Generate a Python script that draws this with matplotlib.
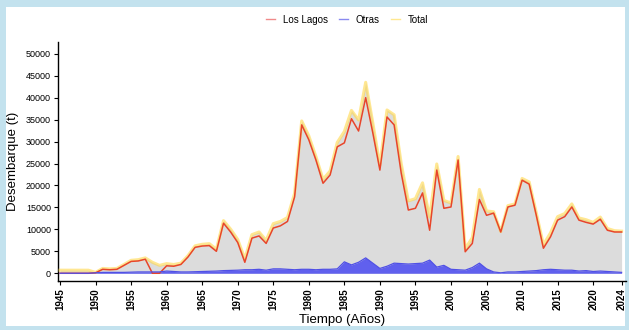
import numpy as np
import matplotlib
matplotlib.use('Agg')
import matplotlib.pyplot as plt
from matplotlib.lines import Line2D
from matplotlib.patches import Rectangle

plt.rcParams['font.family'] = ['Liberation Sans', 'DejaVu Sans']

years = list(range(1945, 2025))

los_lagos = [0, 0, 0, 0, 0,
             100, 900, 800, 900, 1800, 2700, 2800, 3200, 0, 0,
             1700, 1600, 2000, 3700, 5900, 6200, 6300, 5000, 11400, 9400,
             7000, 2500, 8000, 8500, 6800, 10300, 10800, 11800, 17400, 33800,
             30400, 25800, 20500, 22400, 28800, 29700, 35200, 32400, 40000, 32000,
             23500, 35600, 33800, 22800, 14400, 14800, 18300, 9800, 23500, 14800,
             15100, 25800, 4900, 6800, 16800, 13200, 13700, 9400, 15100, 15500,
             21200, 20300, 13200, 5700, 8300, 12100, 12900, 15100, 12100, 11600,
             11200, 12300, 9800, 9400, 9400]

otras = [0, 0, 0, 0, 0,
         100, 200, 200, 200, 200, 250, 300, 300, 300, 300,
         500, 400, 300, 300, 350, 400, 450, 500, 600, 650,
         700, 800, 800, 900, 700, 1000, 1000, 900, 800, 900,
         900, 800, 900, 900, 1000, 2600, 1900, 2500, 3500, 2300,
         1100, 1600, 2300, 2200, 2100, 2200, 2300, 3000, 1400, 1800,
         900, 800, 700, 1300, 2300, 1000, 300, 100, 300, 300,
         400, 500, 600, 800, 900, 800, 700, 700, 500, 600,
         400, 500, 400, 300, 200]

total = [700, 700, 700, 700, 700,
         200, 1100, 1000, 1100, 2000, 2950, 3100, 3500, 2500, 1800,
         2200, 2000, 2300, 4000, 6250, 6600, 6750, 5500, 12000, 10050,
         7700, 3300, 8800, 9400, 7500, 11300, 11800, 12700, 18200, 34700,
         31300, 26600, 21400, 23300, 29800, 32300, 37100, 34900, 43500, 34300,
         24600, 37200, 36100, 25000, 16500, 17000, 20600, 12800, 24900, 16600,
         16000, 26600, 5600, 8100, 19100, 14200, 14000, 9500, 15400, 15800,
         21600, 20800, 13800, 6500, 9200, 12900, 13600, 15800, 12600, 12200,
         11600, 12800, 10200, 9700, 9600]

x_ticks = list(range(1945, 2021, 5)) + [2024]
y_ticks = list(range(0, 50001, 5000))

fig = plt.figure(figsize=(6.29, 3.30), dpi=100, facecolor='#c3e2ee')
# panel blanco dentro del marco celeste
fig.patches.append(Rectangle((0.010, 0.012), 0.984, 0.968, transform=fig.transFigure,
                             facecolor='white', edgecolor='none', zorder=-10))

ax = fig.add_axes([0.092, 0.148, 0.903, 0.725])
ax.set_facecolor('none')

ax.fill_between(years, 0, total, color='#dcdcdc', lw=0, zorder=1)
ax.fill_between(years, 0, otras, color='#6060ee', lw=0, zorder=2)
ax.plot(years, total, color='#ffd84a', lw=2.2, alpha=0.6, zorder=3)
ax.plot(years, los_lagos, color='#e8452a', lw=1.1, zorder=4)
ax.plot(years, otras, color='#5050e6', lw=0.9, zorder=5)

ax.set_xlim(1944.7, 2024.6)
ax.set_ylim(-1800, 52700)
ax.set_xticks(x_ticks)
ax.set_xticklabels([str(t) for t in x_ticks], rotation=90, fontsize=7, fontweight='bold')
ax.set_yticks(y_ticks)
ax.set_yticklabels([str(t) for t in y_ticks], fontsize=6.5)
ax.tick_params(length=3, width=0.8, pad=2)

for s in ['top', 'right']:
    ax.spines[s].set_visible(False)
ax.spines['left'].set_linewidth(1.0)
ax.spines['bottom'].set_linewidth(1.0)

ax.set_xlabel('Tiempo (Años)', fontsize=9.5, labelpad=3)
ax.set_ylabel('Desembarque (t)', fontsize=9.5, labelpad=5)

handles = [Line2D([], [], color='#f08a8a', lw=1),
           Line2D([], [], color='#8a8af0', lw=1),
           Line2D([], [], color='#ffe890', lw=1)]
fig.legend(handles, ['Los Lagos', 'Otras', 'Total'], loc='center', ncol=3,
           bbox_to_anchor=(0.552, 0.94), frameon=False, fontsize=7,
           handlelength=0.9, handletextpad=0.8, columnspacing=1.2)

plt.savefig('out.png', dpi=100, facecolor=fig.get_facecolor())
